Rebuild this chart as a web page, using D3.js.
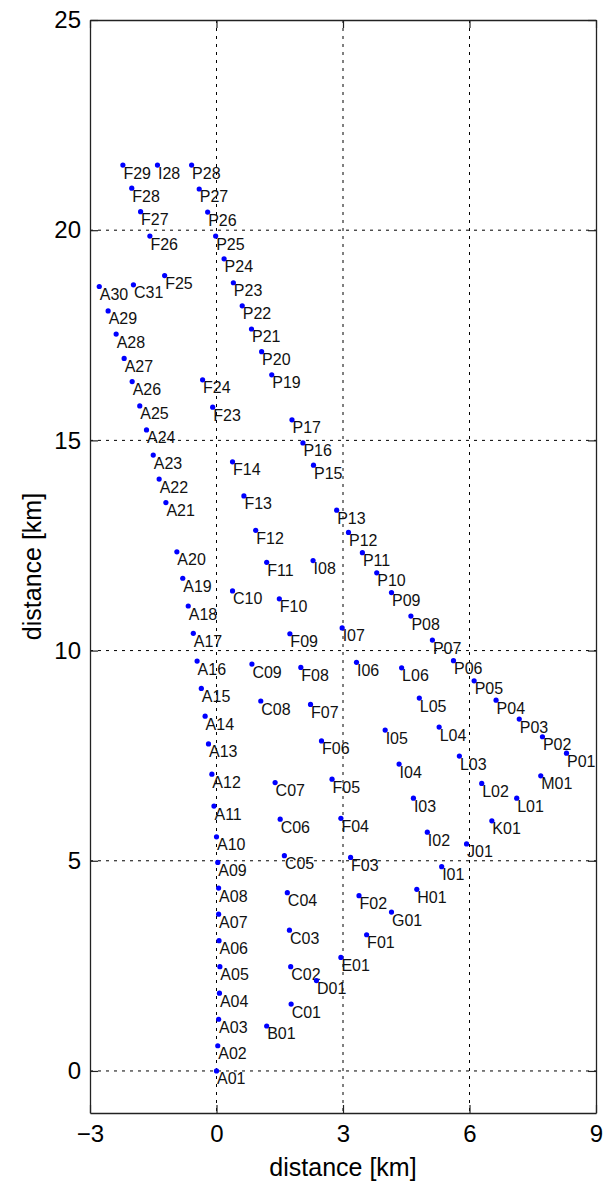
<!DOCTYPE html>
<html>
<head>
<meta charset="utf-8">
<script src="https://cdn.jsdelivr.net/npm/d3@7"></script>
<style>
  body { margin: 0; background: #fff; }
  svg text { font-family: "Liberation Sans", Arial, Helvetica, sans-serif; fill: #000; }
  .grid line { stroke: #000; stroke-width: 1; stroke-dasharray: 3,5; }
  .tick-lab { font-size: 24px; }
  .axis-lab { font-size: 25px; }
  .stn { font-size: 16px; fill: #111; }
</style>
</head>
<body>
<div id="root"></div>
<script>
// station ids with their positions [km]
const stationIds = [
  "A01","A02","A03","A04","A05","A06","A07","A08","A09","A10",
  "A11","A12","A13","A14","A15","A16","A17","A18","A19","A20",
  "A21","A22","A23","A24","A25","A26","A27","A28","A29","A30",
  "B01","C01","C02","C03","C04","C05","C06","C07","C08","C09","C10","C31",
  "D01","E01",
  "F01","F02","F03","F04","F05","F06","F07","F08","F09","F10","F11","F12","F13","F14",
  "F23","F24","F25","F26","F27","F28","F29",
  "G01","H01",
  "I01","I02","I03","I04","I05","I06","I07","I08","I28",
  "J01","K01",
  "L01","L02","L03","L04","L05","L06","M01",
  "P01","P02","P03","P04","P05","P06","P07","P08","P09","P10","P11","P12","P13",
  "P15","P16","P17","P19","P20","P21","P22","P23","P24","P25","P26","P27","P28"
];
const eastKm = [
  0.00,0.03,0.05,0.07,0.08,0.06,0.05,0.05,0.03,0.00,
  -0.06,-0.11,-0.19,-0.27,-0.36,-0.46,-0.55,-0.67,-0.80,-0.94,
  -1.20,-1.36,-1.50,-1.66,-1.82,-2.00,-2.19,-2.38,-2.57,-2.78,
  1.19,1.77,1.76,1.73,1.68,1.61,1.51,1.39,1.05,0.84,0.38,-1.97,
  2.37,2.95,
  3.56,3.38,3.18,2.95,2.74,2.49,2.23,2.00,1.74,1.49,1.19,0.93,0.65,0.38,
  -0.09,-0.33,-1.23,-1.58,-1.80,-2.01,-2.22,
  4.15,4.75,
  5.34,5.00,4.67,4.33,4.00,3.32,2.98,2.29,-1.40,
  5.93,6.53,
  7.12,6.29,5.76,5.28,4.81,4.39,7.69,
  8.30,7.73,7.18,6.63,6.11,5.62,5.12,4.61,4.15,3.80,3.46,3.13,2.85,
  2.30,2.05,1.79,1.31,1.07,0.83,0.61,0.40,0.18,-0.02,-0.21,-0.41,-0.59
];
const northKm = [
  0.00,0.60,1.23,1.85,2.48,3.10,3.73,4.35,4.96,5.57,
  6.30,7.06,7.78,8.44,9.10,9.75,10.41,11.06,11.72,12.35,
  13.52,14.08,14.65,15.25,15.82,16.40,16.95,17.53,18.08,18.66,
  1.07,1.59,2.48,3.35,4.24,5.12,5.99,6.86,8.80,9.68,11.42,18.70,
  2.15,2.70,
  3.24,4.17,5.08,6.01,6.94,7.85,8.72,9.60,10.40,11.23,12.10,12.86,13.68,14.49,
  15.79,16.44,18.92,19.86,20.44,21.00,21.55,
  3.78,4.32,
  4.86,5.68,6.49,7.30,8.11,9.72,10.54,12.14,21.55,
  5.40,5.95,
  6.49,6.84,7.49,8.18,8.87,9.59,7.02,
  7.56,7.95,8.37,8.82,9.28,9.76,10.25,10.82,11.38,11.85,12.33,12.81,13.34,
  14.41,14.94,15.49,16.56,17.11,17.65,18.20,18.75,19.32,19.86,20.43,20.98,21.55
];

const xDomain = [-3, 9], yDomain = [-1, 25];
const xTicks = [-3, 0, 3, 6, 9];
const yTicks = [0, 5, 10, 15, 20, 25];
const xLabel = "distance [km]", yLabel = "distance [km]";

const W = 605, H = 1181,
    margin = {top: 20, right: 9, bottom: 68, left: 90},
    width = W - margin.left - margin.right,
    height = H - margin.top - margin.bottom;

const stations = stationIds.map((id, i) => ({id: id, x: eastKm[i], y: northKm[i]}));

const svg = d3.select("#root").append("svg")
    .attr("width", W)
    .attr("height", H);

const g = svg.append("g")
    .attr("transform", "translate(" + margin.left + "," + margin.top + ")");

const x = d3.scaleLinear().domain(xDomain).range([0, width]);
const y = d3.scaleLinear().domain(yDomain).range([height, 0]);

// dotted grid at the ticks
const grid = g.append("g").attr("class", "grid");
grid.selectAll(".gx").data(xTicks.slice(1, -1)).enter().append("line")
    .attr("x1", d => x(d)).attr("x2", d => x(d))
    .attr("y1", 0).attr("y2", height);
grid.selectAll(".gy").data(yTicks.slice(0, -1)).enter().append("line")
    .attr("y1", d => y(d)).attr("y2", d => y(d))
    .attr("x1", 0).attr("x2", width);

// axes with inward ticks, mirrored on all sides
const axStyle = sel => {
    sel.select(".domain").attr("stroke", "#222").attr("stroke-width", 1.3);
    sel.selectAll(".tick line").attr("stroke", "#222").attr("stroke-width", 1.2);
};
g.append("g")
    .attr("transform", "translate(0," + height + ")")
    .call(d3.axisBottom(x).tickValues(xTicks).tickSize(-8).tickSizeOuter(0).tickPadding(12)
        .tickFormat(d => d < 0 ? "\u2212" + Math.abs(d) : d))
    .call(axStyle)
    .call(s => s.selectAll("text").attr("class", "tick-lab").attr("font-size", null).attr("font-family", null));
g.append("g")
    .call(d3.axisTop(x).tickValues(xTicks).tickSize(-8).tickSizeOuter(0).tickFormat(""))
    .call(axStyle);
g.append("g")
    .call(d3.axisLeft(y).tickValues(yTicks).tickSize(-8).tickSizeOuter(0).tickPadding(9))
    .call(axStyle)
    .call(s => s.selectAll("text").attr("class", "tick-lab").attr("font-size", null).attr("font-family", null));
g.append("g")
    .attr("transform", "translate(" + width + ",0)")
    .call(d3.axisRight(y).tickValues(yTicks).tickSize(-8).tickSizeOuter(0).tickFormat(""))
    .call(axStyle);

// stations
svg.append("clipPath").attr("id", "plotclip")
    .append("rect").attr("width", width).attr("height", height);

const pts = g.append("g").attr("clip-path", "url(#plotclip)");
pts.selectAll(".stn").data(stations).enter().append("text")
    .attr("class", "stn")
    .attr("x", d => x(d.x) + 0.5)
    .attr("y", d => y(d.y) + 13.5)
    .text(d => d.id);
pts.selectAll("circle").data(stations).enter().append("circle")
    .attr("cx", d => x(d.x))
    .attr("cy", d => y(d.y))
    .attr("r", 2.6)
    .attr("fill", "#0000ff");

// axis labels
svg.append("text")
    .attr("class", "axis-lab")
    .attr("x", margin.left + width / 2)
    .attr("y", 1176)
    .attr("text-anchor", "middle")
    .text(xLabel);
svg.append("text")
    .attr("class", "axis-lab")
    .attr("transform", "translate(41," + (margin.top + height / 2) + ") rotate(-90)")
    .attr("text-anchor", "middle")
    .text(yLabel);
</script>
</body>
</html>
